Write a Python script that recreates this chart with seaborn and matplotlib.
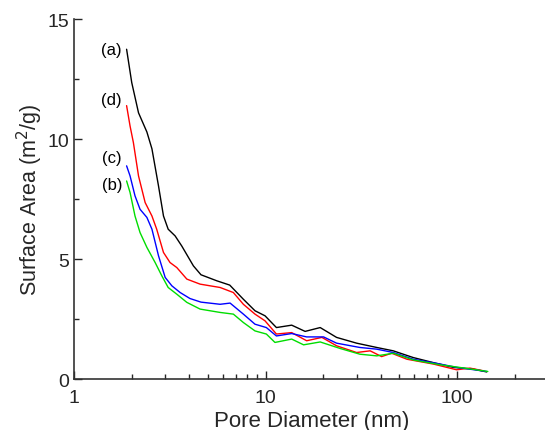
import matplotlib
matplotlib.use('Agg')
import matplotlib.pyplot as plt
import seaborn as sns
import pandas as pd
from matplotlib.ticker import MultipleLocator, LogLocator, NullFormatter

# pore diameter (nm) / surface area (m2/g)
d_a = [1.88, 2.0, 2.17, 2.40, 2.55, 2.76, 2.93, 3.1, 3.37, 3.65, 4.2, 4.6, 5.56, 6.5, 7.66, 8.81, 9.94,
       11.4, 13.7, 16.1, 19.3, 23.5, 29.9, 38.1, 46.5, 59.1, 75.2, 95.7, 121.7, 143]
s_a = [13.75, 12.36, 11.1, 10.3, 9.6, 8.05, 6.8, 6.25, 5.97, 5.55, 4.72, 4.35, 4.1, 3.92, 3.33, 2.85, 2.64,
       2.15, 2.25, 1.99, 2.15, 1.74, 1.5, 1.32, 1.18, 0.9, 0.69, 0.49, 0.42, 0.30]

d_d = [1.88, 1.96, 2.04, 2.17, 2.35, 2.55, 2.7, 2.93, 3.17, 3.44, 3.88, 4.55, 5.79, 6.79, 7.66, 8.81, 9.94,
       11.4, 13.7, 16.4, 19.7, 23.5, 29.9, 35.2, 40.4, 45.6, 54.8, 75.2, 99.6, 116.9, 137]
s_d = [11.4, 10.55, 9.86, 8.47, 7.36, 6.8, 6.25, 5.28, 4.86, 4.65, 4.17, 3.96, 3.82, 3.61, 3.12, 2.71, 2.43,
       1.88, 1.94, 1.6, 1.74, 1.39, 1.11, 1.18, 0.94, 1.08, 0.83, 0.63, 0.39, 0.46, 0.35]

d_c = [1.88, 1.96, 2.08, 2.21, 2.40, 2.55, 2.76, 2.99, 3.24, 3.58, 4.03, 4.6, 5.79, 6.53, 7.66, 8.81, 10.1,
       11.4, 13.7, 16.4, 20.1, 23.5, 31.1, 38.1, 46.5, 59.1, 81.6, 99.6, 143]
s_c = [8.89, 8.47, 7.64, 7.08, 6.74, 6.25, 5.14, 4.24, 3.89, 3.61, 3.36, 3.21, 3.12, 3.17, 2.71, 2.29, 2.15,
       1.8, 1.9, 1.76, 1.76, 1.5, 1.32, 1.25, 1.11, 0.83, 0.63, 0.49, 0.32]

d_b = [1.88, 1.96, 2.08, 2.21, 2.40, 2.65, 2.87, 3.1, 3.44, 3.88, 4.55, 5.79, 6.79, 7.66, 8.81, 10.1,
       11.2, 13.7, 15.8, 19.3, 24.5, 31.1, 38.1, 46.5, 59.1, 81.6, 103, 145]
s_b = [8.26, 7.78, 6.8, 6.11, 5.49, 4.86, 4.31, 3.82, 3.54, 3.2, 2.92, 2.78, 2.71, 2.36, 2.01, 1.88,
       1.53, 1.67, 1.43, 1.55, 1.28, 1.04, 0.97, 1.08, 0.8, 0.6, 0.49, 0.32]

samples = ['(a)', '(d)', '(c)', '(b)']
colors = ['black', 'red', 'blue', '#00dd00']
label_y = [13.75, 11.65, 9.25, 8.1]

frames = []
for name, d, s in zip(samples, [d_a, d_d, d_c, d_b], [s_a, s_d, s_c, s_b]):
    frames.append(pd.DataFrame({'diameter': d, 'area': s, 'sample': name}))
df = pd.concat(frames, ignore_index=True)

sns.set_style('ticks')
plt.rcParams['font.family'] = ['Liberation Sans', 'DejaVu Sans']

fig = plt.figure(figsize=(5.45, 4.31), dpi=100)
ax = fig.add_axes([0.136, 0.118, 0.87, 0.835])

sns.lineplot(data=df, x='diameter', y='area', hue='sample', palette=dict(zip(samples, colors)),
             sort=False, estimator=None, linewidth=1, legend=False, ax=ax)

for name, y in zip(samples, label_y):
    ax.text(1.78, y, name, fontsize=12, ha='right', va='center', color='black')

ax.set_xscale('log')
ax.set_xlim(1, 300)
ax.set_ylim(0, 15)
ax.set_xticks([1, 10, 100])
ax.set_xticklabels(['1', '10', '100'])
ax.xaxis.set_minor_locator(LogLocator(base=10, subs=range(2, 10)))
ax.xaxis.set_minor_formatter(NullFormatter())
ax.yaxis.set_major_locator(MultipleLocator(5))
ax.yaxis.set_minor_locator(MultipleLocator(2.5))

ax.tick_params(which='both', direction='in', labelsize=14, top=False, right=False)
ax.tick_params(which='major', length=6, width=1)
ax.tick_params(which='minor', length=3.5, width=1)
ax.tick_params(axis='x', pad=7)

ax.set_xlabel('Pore Diameter (nm)', fontsize=16, labelpad=3)
ax.set_ylabel('Surface Area (m$^2$/g)', fontsize=15.5, labelpad=2)

sns.despine(ax=ax)
for sp in ['left', 'bottom']:
    ax.spines[sp].set_linewidth(1.2)
    ax.spines[sp].set_color('#333333')

fig.savefig('out.png', dpi=100)
